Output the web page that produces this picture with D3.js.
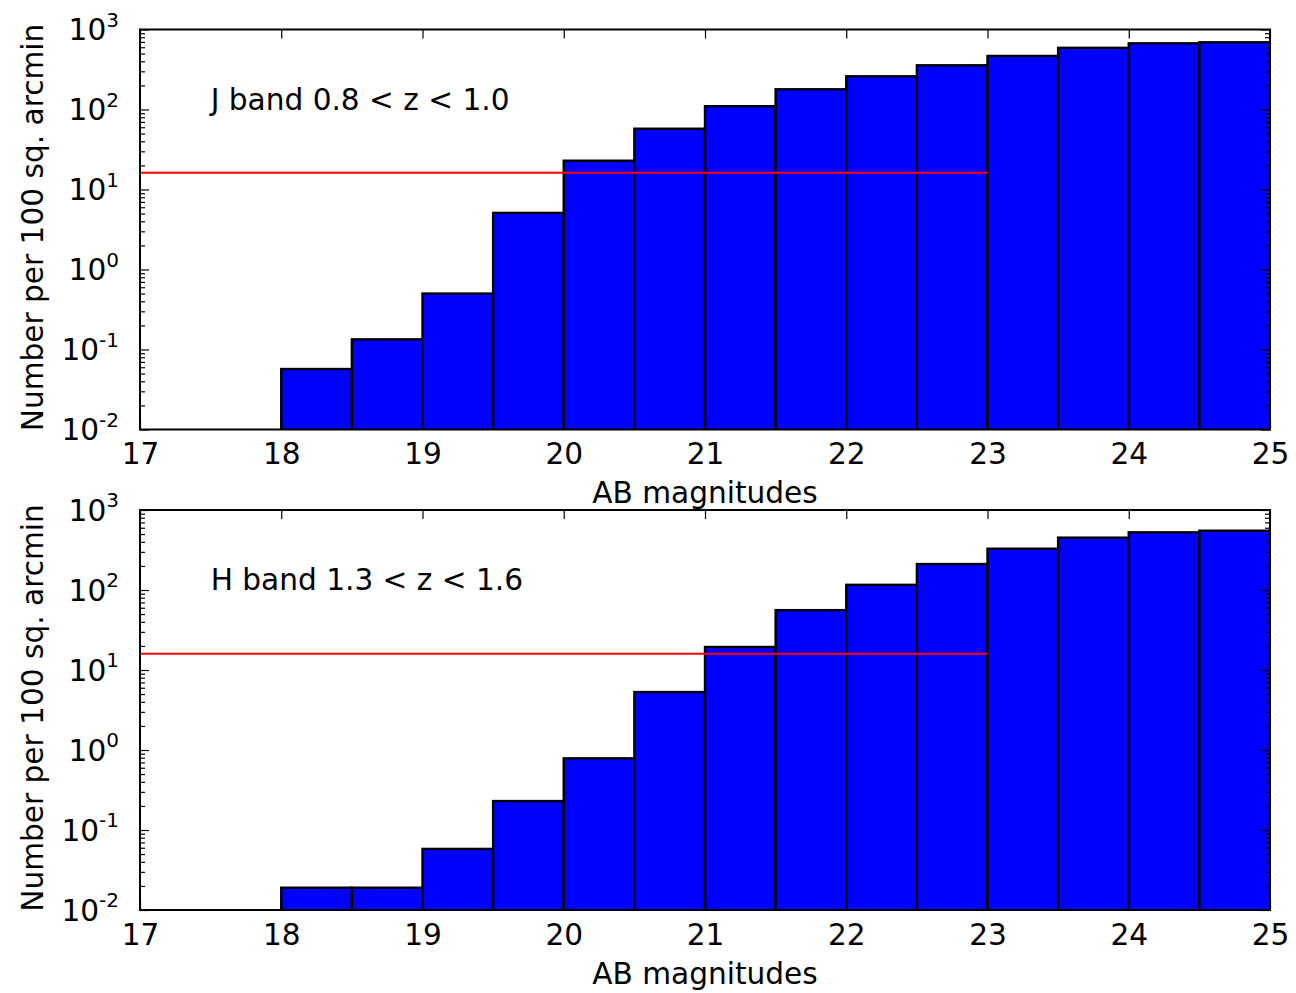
<!DOCTYPE html>
<html>
<head>
<meta charset="utf-8">
<script src="https://cdn.jsdelivr.net/npm/d3@7"></script>
<style>
  html, body { margin: 0; padding: 0; background: #fff; }
  svg { display: block; }
  text { font-family: "DejaVu Sans", sans-serif; fill: #000; }
</style>
</head>
<body>
<svg id="chart" width="1296" height="993"></svg>
<script>
// Magnitude bin edges (AB mag), 0.5 mag wide
const binStarts = [18, 18.5, 19, 19.5, 20, 20.5, 21, 21.5, 22, 22.5, 23, 23.5, 24, 24.5];
const binWidth = 0.5;

// Counts per 100 sq. arcmin in each bin
const jBandCounts = [0.057, 0.134, 0.50, 5.1, 22.9, 57.5, 110, 179, 260, 357, 467, 590, 672, 692];
const hBandCounts = [0.019, 0.019, 0.058, 0.23, 0.787, 5.3, 19.4, 56, 116, 211, 328, 451, 526, 551];

// Panel titles
const panelLabels = ["J band 0.8 < z < 1.0", "H band 1.3 < z < 1.6"];

// Reference density level and the magnitude range it spans
const refLevel = [16.2, 16.0];
const refRange = [17, 23];

// Axis ticks
const xTicks = [17, 18, 19, 20, 21, 22, 23, 24, 25];
const yExponents = [-2, -1, 0, 1, 2, 3];
const xDomain = [17, 25];
const yDomain = [0.01, 1000];

const xTitle = "AB magnitudes";
const yTitle = "Number per 100 sq. arcmin";

const svg = d3.select("#chart");
const left = 140, right = 1270, panelHeight = 400;
const panelTops = [29.5, 510];
const fontSize = 29.6;

const x = d3.scaleLinear().domain(xDomain).range([left, right]);

function drawPanel(top, counts, label, level) {
  const bottom = top + panelHeight;
  const y = d3.scaleLog().domain(yDomain).range([bottom, top]);
  const g = svg.append("g");

  const clipId = "clip" + Math.round(top);
  svg.append("clipPath").attr("id", clipId)
    .append("rect").attr("x", left).attr("y", top)
    .attr("width", right - left).attr("height", panelHeight);

  const plot = g.append("g").attr("clip-path", `url(#${clipId})`);

  // Histogram bars
  plot.selectAll("rect.bar")
    .data(binStarts.map((s, i) => ({ start: s, value: counts[i] })))
    .join("rect")
    .attr("class", "bar")
    .attr("x", d => x(d.start))
    .attr("width", d => x(d.start + binWidth) - x(d.start))
    .attr("y", d => y(d.value))
    .attr("height", d => y(yDomain[0]) - y(d.value) + 4)
    .attr("fill", "#0000ff")
    .attr("stroke", "#000")
    .attr("stroke-width", 2.4);

  // Reference level line
  plot.append("line")
    .attr("x1", x(refRange[0])).attr("x2", x(refRange[1]))
    .attr("y1", y(level)).attr("y2", y(level))
    .attr("stroke", "#ff0000").attr("stroke-width", 2);

  // Ticks (drawn inward on all four sides)
  const majors = yExponents.map(e => Math.pow(10, e));
  const minors = y.ticks().filter(v => {
    const m = v / Math.pow(10, Math.floor(Math.log10(v) + 1e-9));
    return Math.abs(m - 1) > 1e-6;
  });

  const styleAxis = sel => {
    sel.select(".domain").remove();
    sel.selectAll(".tick line").attr("stroke", "#000").attr("stroke-width", 1.2);
    sel.attr("font-family", null).attr("font-size", null);
  };

  // Left: major with labels
  const leftAxis = g.append("g").attr("transform", `translate(${left},0)`)
    .call(d3.axisLeft(y).tickValues(majors).tickSize(-9).tickPadding(21).tickFormat(""))
    .call(styleAxis);
  leftAxis.selectAll(".tick text").each(function(d) {
    const t = d3.select(this);
    t.text(null).attr("font-size", fontSize).attr("dy", "0.34em");
    t.append("tspan").text("10");
    t.append("tspan").attr("font-size", 20).attr("dy", -13.5)
      .text(String(Math.round(Math.log10(d))));
  });
  g.append("g").attr("transform", `translate(${left},0)`)
    .call(d3.axisLeft(y).tickValues(minors).tickSize(-5).tickFormat(""))
    .call(styleAxis);

  // Right
  g.append("g").attr("transform", `translate(${right},0)`)
    .call(d3.axisRight(y).tickValues(majors).tickSize(-9).tickFormat(""))
    .call(styleAxis);
  g.append("g").attr("transform", `translate(${right},0)`)
    .call(d3.axisRight(y).tickValues(minors).tickSize(-5).tickFormat(""))
    .call(styleAxis);

  // Bottom with labels
  g.append("g").attr("transform", `translate(0,${bottom})`)
    .call(d3.axisBottom(x).tickValues(xTicks).tickSize(-9).tickPadding(13.5).tickFormat(d3.format("d")))
    .call(styleAxis)
    .selectAll(".tick text").attr("font-size", fontSize);

  // Top
  g.append("g").attr("transform", `translate(0,${top})`)
    .call(d3.axisTop(x).tickValues(xTicks).tickSize(-9).tickFormat(""))
    .call(styleAxis);

  // Frame
  g.append("rect")
    .attr("x", left).attr("y", top)
    .attr("width", right - left).attr("height", panelHeight)
    .attr("fill", "none").attr("stroke", "#000").attr("stroke-width", 2);

  // Panel title at (17.5, 100) in data coordinates
  g.append("text")
    .attr("x", x(17.5)).attr("y", y(100))
    .attr("font-size", fontSize)
    .text(label);

  // Axis titles
  g.append("text")
    .attr("x", (left + right) / 2).attr("y", bottom + 73.5)
    .attr("text-anchor", "middle").attr("font-size", fontSize)
    .text(xTitle);

  g.append("text")
    .attr("transform", `translate(43,${top + panelHeight / 2 - 2}) rotate(-90)`)
    .attr("text-anchor", "middle").attr("font-size", fontSize)
    .text(yTitle);
}

drawPanel(panelTops[0], jBandCounts, panelLabels[0], refLevel[0]);
drawPanel(panelTops[1], hBandCounts, panelLabels[1], refLevel[1]);
</script>
</body>
</html>
